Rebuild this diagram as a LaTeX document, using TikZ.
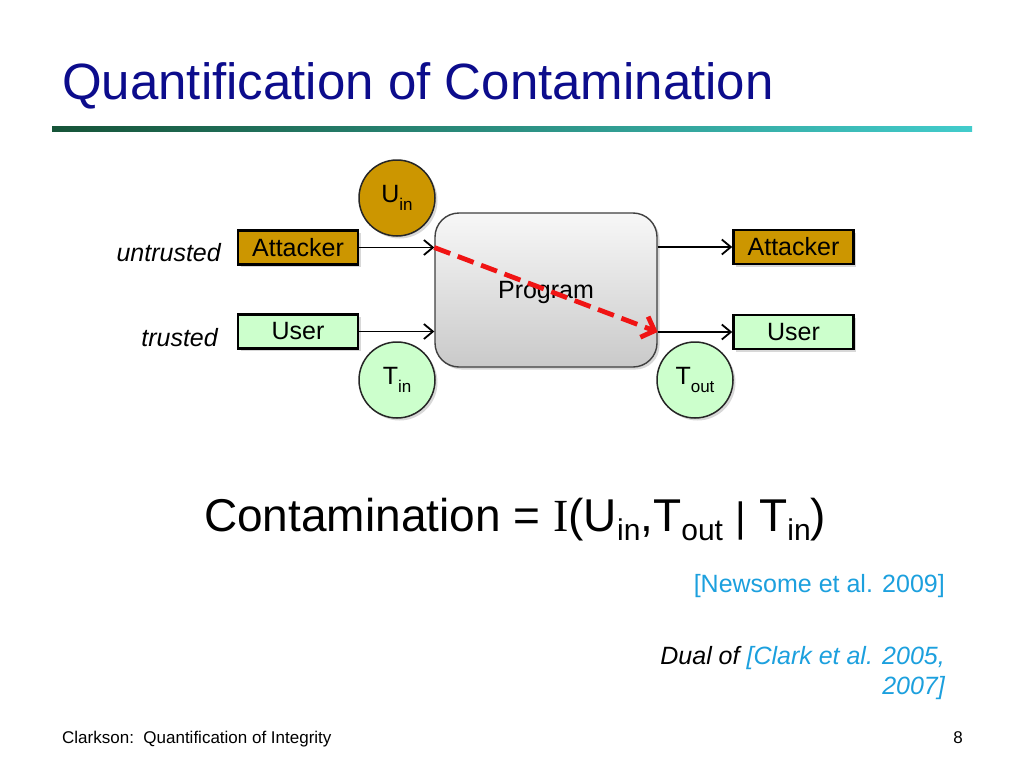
\documentclass[tikz,border=0pt]{standalone}
\usepackage{fontspec}
\setmainfont{Liberation Sans}
\newfontfamily\serifI{Liberation Serif}
\usetikzlibrary{arrows.meta,shadows}
\definecolor{titleblue}{RGB}{12,12,140}
\definecolor{gold}{RGB}{204,150,0}
\definecolor{mint}{RGB}{204,255,204}
\definecolor{citeblue}{RGB}{28,160,222}
\definecolor{lineL}{RGB}{22,84,56}
\definecolor{lineR}{RGB}{66,204,204}
\definecolor{redarrow}{RGB}{240,20,20}
\newcommand\lowsub[1]{\raisebox{-0.2em}{\fontsize{30}{30}\selectfont #1}}
\newcommand\midbar{{\fontsize{41}{41}\selectfont\textbar}}
\newcommand\nodesub[1]{\raisebox{-0.3em}{\fontsize{17}{20}\selectfont #1}}
\begin{document}
\begin{tikzpicture}[x=1pt,y=-1pt,
  shadowed/.style={drop shadow={shadow xshift=2.5pt,shadow yshift=-2.5pt,opacity=0.3}},
  box/.style={draw=black, line width=2.6pt, minimum width=120pt, minimum height=34pt,
    inner sep=0pt, font=\fontsize{25}{30}\selectfont, shadowed},
  bubble/.style={circle, draw=black!85, line width=1.5pt, minimum size=76pt,
    inner sep=0pt, font=\fontsize{25}{30}\selectfont, shadowed},
  flow/.style={line width=1.8pt, -{Straight Barb[length=9pt,width=15pt,line width=1.8pt]}},
  leak/.style={line width=4.8pt, redarrow, dash pattern=on 17pt off 8pt,
    -{Straight Barb[length=11pt,width=22pt,line width=4.8pt]}},
  lbl/.style={inner sep=0pt, font=\fontsize{25}{30}\selectfont\itshape}
]
\useasboundingbox (0,0) rectangle (1024,768);
\fill[white] (0,0) rectangle (1024,768);

% title and rule
\node[anchor=base west, inner sep=0pt, text=titleblue, font=\fontsize{51}{60}\selectfont]
  (title) at (62,99) {Quantification of Contamination};
\shade[left color=lineL, right color=lineR] (52,126) rectangle (972,131);

% program
\node[draw=black!75, line width=1.4pt, rounded corners=24pt, minimum width=222pt,
  minimum height=154pt, top color=gray!6, bottom color=gray!42, shadowed, text depth=0pt,
  font=\fontsize{25}{30}\selectfont] (prog) at (546,290) {Program};

% inputs and outputs
\node[box, fill=gold] (attin) at (298,247.5) {Attacker};
\node[box, fill=mint] (userin) at (298,331.5) {User};
\node[box, fill=gold] (attout) at (793.5,247) {Attacker};
\node[box, fill=mint] (userout) at (793.5,332) {User};

\node[lbl, anchor=base east] (untr) at (221,261) {untrusted};
\node[lbl, anchor=base east] (tr) at (218,346) {trusted};

% bubbles
\node[bubble, fill=gold] (uin) at (397,198) {U\nodesub{in}};
\node[bubble, fill=mint] (tin) at (397,380) {T\nodesub{in}};
\node[bubble, fill=mint] (tout) at (695,380) {T\nodesub{out}};

% connectors
\coordinate (pinA) at (attin.east -| prog.west);
\coordinate (pinU) at (userin.east -| prog.west);
\coordinate (poutA) at (attout.west -| prog.east);
\coordinate (poutU) at (userout.west -| prog.east);
\draw[flow] (attin.east) -- (pinA);
\draw[flow] (userin.east) -- (pinU);
\draw[flow] (poutA) -- (attout.west);
\draw[flow] (poutU) -- (userout.west);
\draw[leak] (pinA) -- (poutU);

% formula
\node[anchor=base west, inner sep=0pt, font=\fontsize{46}{55}\selectfont] (formula) at (204,531)
  {Contamination = {\serifI I}(U\lowsub{in},T\lowsub{out} \midbar{} T\lowsub{in})};

% citations
\node[anchor=base east, inner sep=0pt, text=citeblue, font=\fontsize{25}{30}\selectfont]
  (cite0) at (945,592) {[Newsome et al. 2009]};
\node[anchor=base east, inner sep=0pt, font=\fontsize{25}{30}\selectfont\itshape]
  (cite1) at (945,664) {Dual of \textcolor{citeblue}{[Clark et al. 2005,}};
\node[anchor=base east, inner sep=0pt, text=citeblue, font=\fontsize{25}{30}\selectfont\itshape]
  (cite2) at (945,694) {2007]};

% footer
\node[anchor=base west, inner sep=0pt, font=\fontsize{17}{20}\selectfont]
  (foot) at (62,743) {Clarkson:\ \ Quantification of Integrity};
\node[anchor=base east, inner sep=0pt, font=\fontsize{17}{20}\selectfont]
  (page) at (963,743) {8};
\end{tikzpicture}
\end{document}
